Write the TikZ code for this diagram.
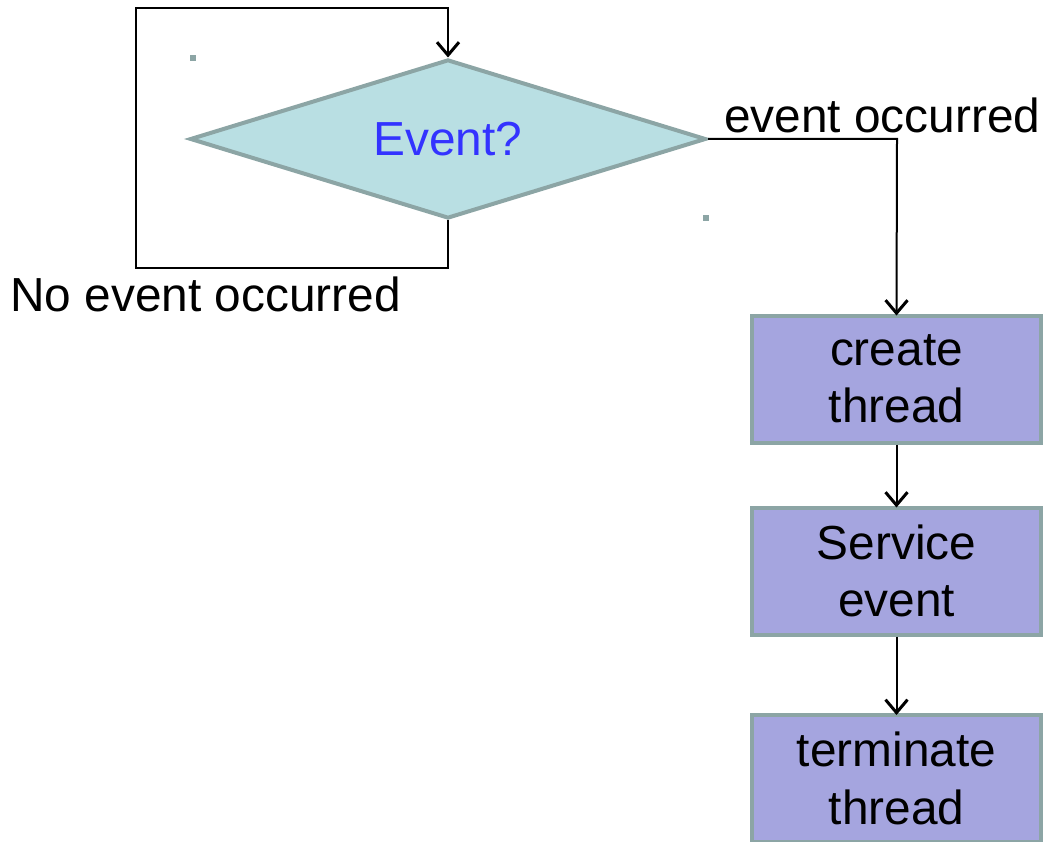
\documentclass[tikz,border=0pt]{standalone}
\usepackage{fontspec}
\setmainfont{Liberation Sans}
\usetikzlibrary{shapes.geometric,arrows.meta}
\definecolor{dfill}{HTML}{B9DFE3}
\definecolor{edgec}{HTML}{8CA5A5}
\definecolor{bfill}{HTML}{A5A5DF}
\definecolor{qblue}{HTML}{3333FF}
\tikzset{
  bigtext/.style={font=\fontsize{47.8}{57.5}\selectfont},
  decision/.style={diamond, aspect=3.2, draw=edgec, fill=dfill, line width=4pt, minimum width=516pt, minimum height=159pt, inner sep=0pt, bigtext, text=qblue},
  procbox/.style={rectangle, draw=edgec, fill=bfill, line width=4pt, minimum width=289pt, minimum height=127pt, inner sep=0pt, bigtext, align=center},
  conn/.style={line width=2pt, -{Straight Barb[length=13pt,width=22pt,line width=3pt]}},
  lbl/.style={bigtext, inner sep=0pt, anchor=base west},
  speck/.style={fill=edgec, draw=none}
}
\begin{document}
\begin{tikzpicture}[x=1pt,y=-1pt]
\useasboundingbox (0,0) rectangle (1043,842);
\node[decision] (ev) at (448,139) {\raisebox{-3pt}{Event?}};
\node[procbox] (create) at (896.5,379) {create\\thread};
\node[procbox] (serv) at (896.5,571) {Service\\event};
\node[procbox] (term) at (896.5,778.5) {terminate\\thread};
\coordinate (lb) at (136,268);
\coordinate (lt) at (136,8);
\coordinate (rc) at (897,139);
\draw[conn] (ev.south) |- (lb) -- (lt) -| (ev.north);
\draw[conn] (ev.east) -- (rc) -- ([yshift=-2pt]create.north);
\draw[conn] (create.south) -- ([yshift=-2pt]serv.north);
\draw[conn] (serv.south) -- ([yshift=-2pt]term.north);
\node[lbl] (eo) at (724,133) {event occurred};
\node[lbl] (neo) at (10,311) {No event occurred};
\fill[speck] (190,55) rectangle (196,61);
\fill[speck] (703,215) rectangle (709,221);
\end{tikzpicture}
\end{document}
